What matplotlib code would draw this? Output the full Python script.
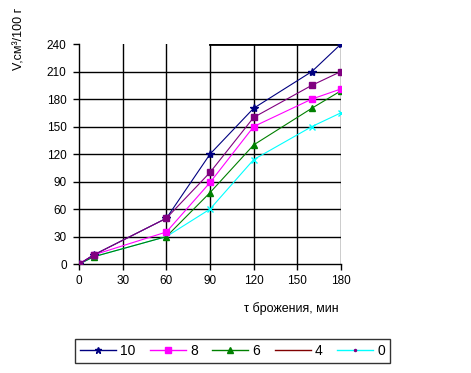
import matplotlib
matplotlib.use("Agg")
import matplotlib.pyplot as plt
from matplotlib.lines import Line2D

plt.rcParams["font.family"] = ["Liberation Sans", "DejaVu Sans"]

# fermentation time, min
time_min = [0, 10, 60, 90, 120, 160, 180]

# gas volume, cm3 per 100 g, for each series
v_10 = [0, 10, 50, 120, 170, 210, 240]
v_8 = [0, 10, 35, 89, 150, 180, 191]
v_6 = [0, 8, 30, 78, 130, 170, 189]
v_4 = [0, 10, 50, 100, 160, 195, 210]
v_0 = [0, 8, 30, 60, 114, 150, 165]

x_ticks = [0, 30, 60, 90, 120, 150, 180]
y_ticks = [0, 30, 60, 90, 120, 150, 180, 210, 240]

fig = plt.figure(figsize=(4.71, 3.73), dpi=100)
ax = fig.add_axes([0.168, 0.292, 0.556, 0.590])

# grid, drawn by hand as in the original spreadsheet chart
for xv in x_ticks[1:]:
    ax.axvline(xv, color="black", lw=1.0, zorder=1)
for yv in y_ticks[1:-1]:
    ax.axhline(yv, color="black", lw=1.0, zorder=1)
ax.plot([90, 180], [240, 240], color="black", lw=2.0, zorder=1)

ax.plot(time_min, v_0, color="#00FFFF", lw=0.8, marker="x", ms=5, mew=1.0, zorder=3)
ax.plot(time_min, v_6, color="#008000", lw=0.8, marker="^", ms=5, zorder=3)
ax.plot(time_min, v_8, color="#FF00FF", lw=0.8, marker="s", ms=5, zorder=3)
ax.plot(time_min, v_10, color="#000080", lw=0.8, marker="*", ms=6, zorder=4)
ax.plot(time_min, v_4, color="#800080", lw=0.8, marker="s", ms=4, zorder=5)

ax.set_xlim(0, 180)
ax.set_ylim(0, 240)
ax.set_xticks(x_ticks)
ax.set_yticks(y_ticks)
ax.tick_params(labelsize=8.5, direction="out", length=4, width=1.0, colors="black")
ax.tick_params(axis="y", pad=5)
for side in ["top", "right"]:
    ax.spines[side].set_visible(False)
for side in ["left", "bottom"]:
    ax.spines[side].set_linewidth(1.0)
ax.margins(0)

fig.text(0.718, 0.172, "τ брожения, мин", fontsize=9, ha="right", va="center")
fig.text(0.042, 0.812, "V,см³/100 г", fontsize=9, rotation=90, ha="center", va="bottom")

handles = [
    Line2D([], [], color="#000080", lw=1.0, marker="*", ms=5),
    Line2D([], [], color="#FF00FF", lw=1.0, marker="s", ms=5),
    Line2D([], [], color="#008000", lw=1.0, marker="^", ms=5),
    Line2D([], [], color="#800000", lw=1.0),
    Line2D([], [], color="#00FFFF", lw=1.0, marker=".", ms=3, mfc="#800080", mec="#800080"),
]
labels = ["10", "8", "6", "4", "0"]
leg = fig.legend(handles, labels, ncol=5, loc="lower left",
                 bbox_to_anchor=(0.144, 0.008, 0.699, 0.059), mode="expand",
                 fontsize=10, frameon=True, fancybox=False, borderpad=0.35,
                 handlelength=2.6, handletextpad=0.3, columnspacing=1.0)
leg.get_frame().set_edgecolor("black")
leg.get_frame().set_linewidth(1.0)

fig.savefig("out.png", dpi=100)
